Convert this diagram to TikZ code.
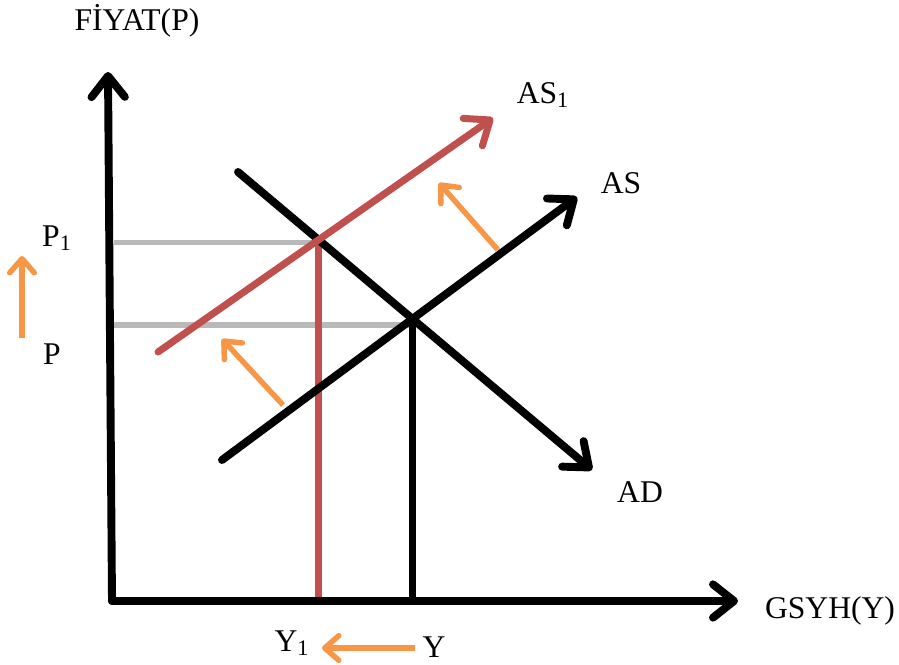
\documentclass[tikz,border=0pt]{standalone}
\usepackage{fontspec}
\setmainfont{Liberation Serif}
\usetikzlibrary{arrows.meta,calc}
\definecolor{shiftred}{HTML}{C0504D}
\definecolor{moveorange}{HTML}{F79646}
\definecolor{guidegray}{HTML}{A8A8A8}

\begin{document}
\begin{tikzpicture}[
		x=0.02cm, y=-0.02cm,
		font=\fontsize{18}{20}\selectfont,
		axis/.style={line width=4.5pt, black, line cap=round,
				-{Straight Barb[round, length=12pt, width=19pt]}},
		curve/.style={line width=#1, line cap=round,
				-{Straight Barb[round, length=12pt, width=19pt]}},
		drop/.style={line width=4pt},
		guide/.style={line width=3pt, guidegray, opacity=0.8},
		move/.style={line width=3.1pt, moveorange,
				-{Straight Barb[round, length=8pt, width=14pt]}},
		lbl/.style={inner sep=0pt},
	]
	\useasboundingbox (0,0) rectangle (899,665);

	% axes
	\coordinate (O) at (112,601);
	\coordinate (ytip) at (108,72);
	\coordinate (xtip) at (738,601);

	% curve ends
	\coordinate (ADstart) at (238,172);
	\coordinate (ADend) at (592,470);
	\coordinate (ASstart) at (222,460);
	\coordinate (ASend) at (577,197);
	\coordinate (ASonestart) at (158,352);
	\coordinate (ASoneend) at (493,118);

	\coordinate (E1) at (intersection of ADstart--ADend and ASonestart--ASoneend);
	\coordinate (E0) at (intersection of ADstart--ADend and ASstart--ASend);

	% guide lines to the price axis
	\draw[guide] ($(O |- E1)+(2,3)$) -- ($(E1)+(0,3)$);
	\draw[guide] ($(O |- E0)+(2,6)$) -- ($(E0)+(0,6)$);

	\draw[drop, black] (E0) -- (E0 |- O);
	\draw[drop, shiftred] (E1) -- (E1 |- O);

	\draw[curve=4.5pt, black] (ASstart) -- (ASend);
	\draw[curve=4.5pt, black] (ADstart) -- (ADend);
	\draw[curve=4pt, shiftred] (ASonestart) -- (ASoneend);

	\draw[axis] (O) -- (ytip);
	\draw[axis] (O) -- (xtip);

	% shift arrows
	\coordinate (pupfrom) at (22,338);
	\coordinate (pupto) at (22,256);
	\coordinate (shiftlowfrom) at (283,405);
	\coordinate (shiftlowto) at (222,339);
	\coordinate (shifthighfrom) at (498,250);
	\coordinate (shifthighto) at (439,183);
	\coordinate (yleftfrom) at (415,648);
	\coordinate (yleftto) at (322,648);
	\draw[move] (pupfrom) -- (pupto);
	\draw[move] (shiftlowfrom) -- (shiftlowto);
	\draw[move] (shifthighfrom) -- (shifthighto);
	\draw[move] (yleftfrom) -- (yleftto);

	% labels
	\node[lbl] (pricelbl) at (137,21) {FİYAT(P)};
	\node[lbl] (gdplbl) at (830,611) {GSYH(Y)};
	\node[lbl] (aslbl) at (621,183) {AS};
	\node[lbl] (asonelbl) at (543,95) {AS\textsubscript{1}};
	\node[lbl] (adlbl) at (640,492) {AD};
	\node[lbl] (ponelbl) at (57,238) {P\textsubscript{1}};
	\node[lbl] (plbl) at (52,354) {P};
	\node[lbl] (yonelbl) at (292,643) {Y\textsubscript{1}};
	\node[lbl] (ylbl) at (434,647) {Y};

\end{tikzpicture}
\end{document}
